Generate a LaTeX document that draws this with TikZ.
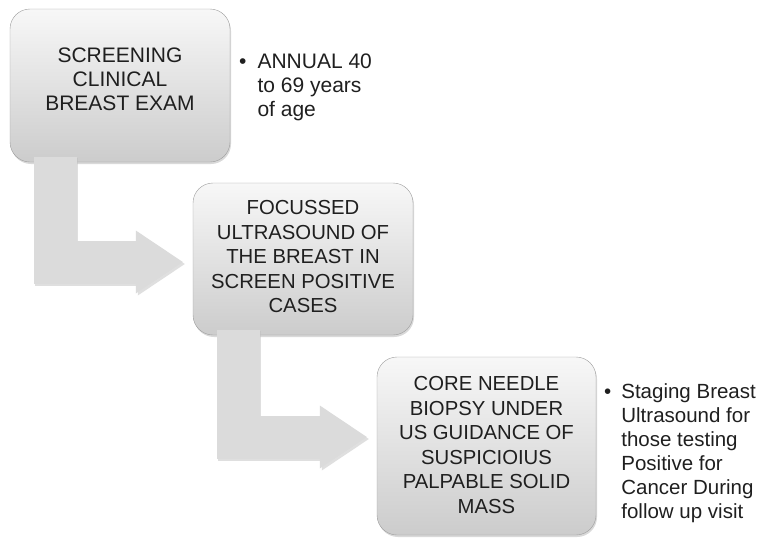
\documentclass[tikz,border=0pt]{standalone}
\usepackage{fontspec}
\setmainfont{Liberation Sans}
\usetikzlibrary{arrows.meta,shadows}

\tikzset{
  stepbox/.style={draw=black!38, rounded corners=20pt, top color=black!3, bottom color=black!20,
    drop shadow={shadow xshift=1pt, shadow yshift=-2pt, opacity=0.3},
    align=center, inner sep=0pt, text=black!88, font=\fontsize{20.3}{24.5}\selectfont},
  note/.style={anchor=base west, inner sep=0pt, text=black!88, font=\fontsize{20.5}{24}\selectfont},
  fatarrow/.style={draw=black!14, line width=43pt, -{Triangle[length=47pt,width=63pt,line width=0pt]}},
  arrowshade/.style={draw=black!25, line width=43pt, -{Triangle[length=47pt,width=63pt,line width=0pt]}},
}

\begin{document}
\begin{tikzpicture}[x=1pt,y=-1pt]
  \useasboundingbox (0,0) rectangle (760,539);

  % steps
  \node[stepbox, minimum width=220pt, minimum height=153pt, text depth=13pt,
        font=\fontsize{21}{24}\selectfont] (screen) at (120,85.5)
    {SCREENING\\CLINICAL\\BREAST EXAM};
  \node[stepbox, minimum width=220pt, minimum height=152pt, text depth=5pt] (focus) at (303,259)
    {FOCUSSED\\ULTRASOUND OF\\THE BREAST IN\\SCREEN POSITIVE\\CASES};
  \node[stepbox, minimum width=219pt, minimum height=178pt, text depth=2pt] (biopsy) at (486.5,446)
    {CORE NEEDLE\\BIOPSY UNDER\\US GUIDANCE OF\\SUSPICIOIUS\\PALPABLE SOLID\\MASS};

  % bent arrows, drawn behind the boxes
  \draw[arrowshade, opacity=0.5] ([xshift=-64pt,yshift=4pt]screen.south) |- ([xshift=-8pt,yshift=-5pt]focus.west);
  \draw[fatarrow] ([xshift=-65pt,yshift=5pt]screen.south) |- ([xshift=-10pt,yshift=-3pt]focus.west);
  \draw[arrowshade, opacity=0.5] ([xshift=-64pt,yshift=4pt]focus.south) |- ([xshift=-8pt,yshift=7pt]biopsy.west);
  \draw[fatarrow] ([xshift=-65pt,yshift=5pt]focus.south) |- ([xshift=-10pt,yshift=9pt]biopsy.west);

  % notes
  \node[note, font=\fontsize{21}{24}\selectfont] (annual) at (239,68)
    {\begin{tabular}[t]{@{}l@{\hspace{11pt}}l@{}}\textbullet & ANNUAL 40\\ & to 69 years\\ & of age\end{tabular}};
  \node[note] (staging) at (604,398)
    {\begin{tabular}[t]{@{}l@{\hspace{10pt}}l@{}}\textbullet & Staging Breast\\ & Ultrasound for\\ & those testing\\ & Positive for\\ & Cancer During\\ & follow up visit\end{tabular}};
\end{tikzpicture}
\end{document}
